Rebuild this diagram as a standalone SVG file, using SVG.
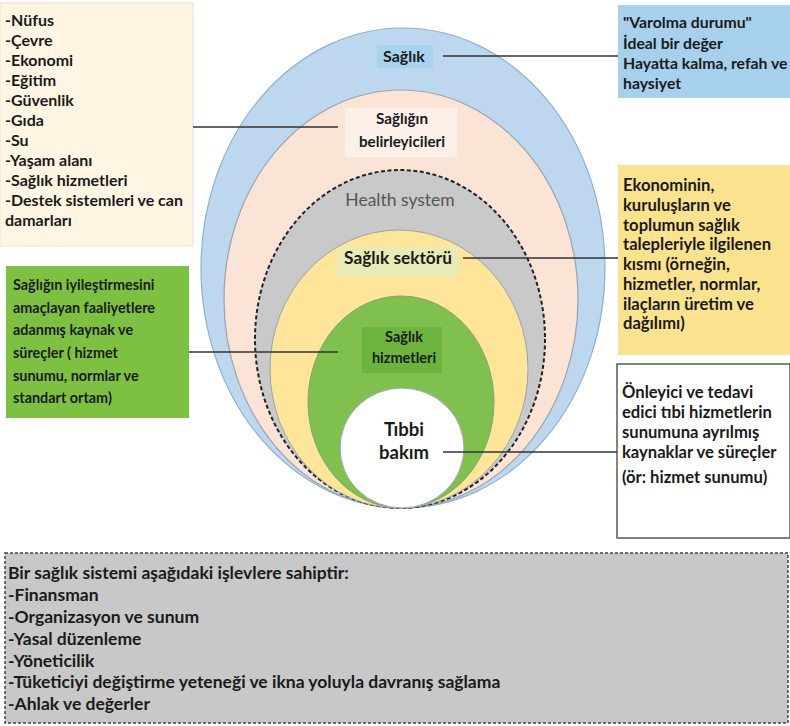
<svg xmlns="http://www.w3.org/2000/svg" width="790" height="726" viewBox="0 0 790 726">
<style>
.t{font-family:Lato,"Open Sans","Liberation Sans",sans-serif;font-weight:bold;fill:#1a1a1a}
.c{text-anchor:middle}
.conn{stroke:#333;stroke-width:1.5;fill:none}
</style>
<rect width="790" height="726" fill="#fff"/>
<g id="rings">
<ellipse id="ring-saglik" cx="403" cy="268" rx="202" ry="240" fill="#bdd7ee" stroke="#8fb0cf" stroke-width="1.2"/>
<ellipse id="ring-belirleyici" cx="401" cy="299" rx="177" ry="209" fill="#fbe3d5" stroke="#9aa3ad" stroke-width="1.2"/>
<ellipse id="ring-system" cx="400" cy="339" rx="145" ry="169" fill="#c9c9c9" stroke="#222" stroke-width="2" stroke-dasharray="4,2.5"/>
<ellipse id="ring-sektor" cx="399" cy="369" rx="129" ry="139" fill="#fee59a" stroke="#9aa3ad" stroke-width="1"/>
<ellipse id="ring-hizmet" cx="401" cy="402" rx="93" ry="106" fill="#7fc04e" stroke="#8aa07a" stroke-width="1"/>
<ellipse id="ring-tibbi" cx="402" cy="448" rx="62" ry="60" fill="#fff" stroke="#9aa3ad" stroke-width="1"/>
</g>
<g id="label-saglik">
<rect x="377" y="45" width="56" height="23" fill="#a9d2ee"/>
<text class="t c" x="404" y="62" font-size="16">Sağlık</text>
</g>
<g id="label-belirleyici">
<rect x="345" y="108" width="112" height="49" fill="#fdf0e8"/>
<text class="t c" x="402" y="124" font-size="15.2">Sağlığın</text>
<text class="t c" x="402" y="147" font-size="15.2">belirleyicileri</text>
</g>
<g id="label-system">
<text x="400" y="206" font-size="17.5" text-anchor="middle" fill="#555" font-family="Lato,'Open Sans','Liberation Sans',sans-serif">Health system</text>
</g>
<g id="label-sektor">
<rect x="338" y="247" width="120" height="30" fill="#e8ebb5"/>
<text class="t c" x="398" y="264" font-size="17.3">Sağlık sektörü</text>
</g>
<g id="label-hizmet">
<rect x="362" y="327" width="80" height="46" fill="#6db43f"/>
<text class="t c" x="404" y="342" font-size="14.5">Sağlık</text>
<text class="t c" x="404" y="363" font-size="14.5">hizmetleri</text>
</g>
<g id="label-tibbi">
<text class="t c" x="404" y="436" font-size="18.5">Tıbbi</text>
<text class="t c" x="404" y="459" font-size="18.5">bakım</text>
</g>
<g id="box-determinants">
<rect x="0" y="3" width="193" height="243" fill="#fef6e3" stroke="#f3dccf" stroke-width="1"/>
<text class="t" font-size="16">
<tspan x="5" y="26">-Nüfus</tspan>
<tspan x="5" y="46">-Çevre</tspan>
<tspan x="5" y="66">-Ekonomi</tspan>
<tspan x="5" y="86">-Eğitim</tspan>
<tspan x="5" y="106">-Güvenlik</tspan>
<tspan x="5" y="126">-Gıda</tspan>
<tspan x="5" y="146">-Su</tspan>
<tspan x="5" y="166">-Yaşam alanı</tspan>
<tspan x="5" y="186">-Sağlık hizmetleri</tspan>
<tspan x="5" y="206">-Destek sistemleri ve can</tspan>
<tspan x="5" y="226">damarları</tspan>
</text>
</g>
<g id="box-saglik">
<rect x="618" y="5" width="172" height="93" fill="#a6d0ec"/>
<text class="t" font-size="15.8">
<tspan x="623" y="28">"Varolma durumu"</tspan>
<tspan x="623" y="49">İdeal bir değer</tspan>
<tspan x="623" y="69">Hayatta kalma, refah ve</tspan>
<tspan x="623" y="89">haysiyet</tspan>
</text>
</g>
<g id="box-sektor">
<rect x="618" y="165" width="172" height="190" fill="#fbe28f"/>
<text class="t" font-size="16.6">
<tspan x="623" y="191">Ekonominin,</tspan>
<tspan x="623" y="211">kuruluşların ve</tspan>
<tspan x="623" y="231">toplumun sağlık</tspan>
<tspan x="623" y="250">talepleriyle ilgilenen</tspan>
<tspan x="623" y="270">kısmı (örneğin,</tspan>
<tspan x="623" y="290">hizmetler, normlar,</tspan>
<tspan x="623" y="310">ilaçların üretim ve</tspan>
<tspan x="623" y="329">dağılımı)</tspan>
</text>
</g>
<g id="box-tibbi">
<rect x="617" y="364" width="173" height="174" fill="#fff" stroke="#5a5a5a" stroke-width="1.5"/>
<text class="t" font-size="16.6">
<tspan x="622" y="398">Önleyici ve tedavi</tspan>
<tspan x="622" y="418">edici tıbi hizmetlerin</tspan>
<tspan x="622" y="438">sunumuna ayrılmış</tspan>
<tspan x="622" y="458">kaynaklar ve süreçler</tspan>
<tspan x="622" y="483">(ör: hizmet sunumu)</tspan>
</text>
</g>
<g id="box-hizmet">
<rect x="6" y="266" width="183" height="152" fill="#7ec142"/>
<text class="t" font-size="14.4">
<tspan x="13" y="290">Sağlığın iyileştirmesini</tspan>
<tspan x="13" y="313">amaçlayan faaliyetlere</tspan>
<tspan x="13" y="335">adanmış kaynak ve</tspan>
<tspan x="13" y="358">süreçler ( hizmet</tspan>
<tspan x="13" y="381">sunumu, normlar ve</tspan>
<tspan x="13" y="403">standart ortam)</tspan>
</text>
</g>
<g id="box-functions">
<rect x="5" y="553" width="783" height="170" fill="#c8c8c8" stroke="#444" stroke-width="1.5" stroke-dasharray="3,2"/>
<text class="t" font-size="17.5">
<tspan x="8" y="579">Bir sağlık sistemi aşağıdaki işlevlere sahiptir:</tspan>
<tspan x="8" y="601">-Finansman</tspan>
<tspan x="8" y="623">-Organizasyon ve sunum</tspan>
<tspan x="8" y="645">-Yasal düzenleme</tspan>
<tspan x="8" y="667">-Yöneticilik</tspan>
<tspan x="8" y="688">-Tüketiciyi değiştirme yeteneği ve ikna yoluyla davranış sağlama</tspan>
<tspan x="8" y="710">-Ahlak ve değerler</tspan>
</text>
</g>
<g id="connectors" class="conn">
<line x1="443" y1="56" x2="618" y2="56"/>
<line x1="193" y1="127" x2="338" y2="127"/>
<line x1="463" y1="258" x2="618" y2="258"/>
<line x1="189" y1="352" x2="338" y2="352"/>
<line x1="443" y1="452" x2="617" y2="452"/>
</g>
</svg>
